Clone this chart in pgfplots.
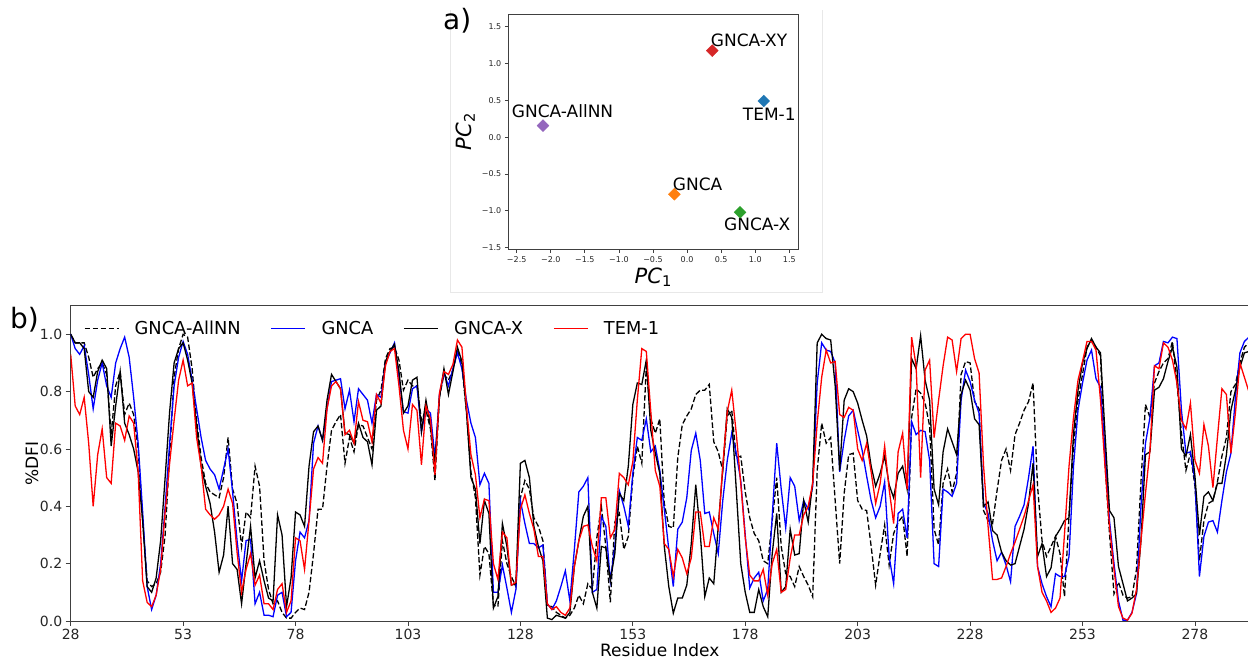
\documentclass[border=0pt]{standalone}
\usepackage{fontspec}
\setmainfont{DejaVu Sans}
\usepackage{pgfplots}
\pgfplotsset{compat=1.18}
\usepackage{pgfplotstable}

\definecolor{tabred}{HTML}{D62728}
\definecolor{tabblue}{HTML}{1F77B4}
\definecolor{tabpurple}{HTML}{9467BD}
\definecolor{taborange}{HTML}{FF7F0E}
\definecolor{tabgreen}{HTML}{2CA02C}

% %DFI per residue: GNCA-AllNN, GNCA, GNCA-X, TEM-1
\pgfplotstableread{
r allnn gnca gncax tem
28 1.00 1.00 1.00 0.93
29 0.97 0.95 0.97 0.75
30 0.97 0.93 0.97 0.72
31 0.97 0.96 0.95 0.78
32 0.92 0.86 0.80 0.62
33 0.85 0.74 0.78 0.40
34 0.88 0.84 0.87 0.58
35 0.90 0.90 0.91 0.67
36 0.86 0.82 0.88 0.50
37 0.65 0.78 0.61 0.48
38 0.82 0.90 0.75 0.69
39 0.87 0.95 0.87 0.68
40 0.72 0.99 0.69 0.63
41 0.76 0.92 0.65 0.715
42 0.72 0.78 0.60 0.69
43 0.60 0.62 0.52 0.52
44 0.35 0.38 0.35 0.14
45 0.14 0.12 0.12 0.065
46 0.12 0.04 0.10 0.05
47 0.13 0.09 0.15 0.09
48 0.17 0.20 0.28 0.18
49 0.30 0.40 0.50 0.38
50 0.58 0.62 0.73 0.55
51 0.85 0.82 0.90 0.70
52 0.95 0.92 0.95 0.84
53 1.00 0.975 0.97 0.91
54 0.99 0.93 0.91 0.82
55 0.88 0.84 0.83 0.83
56 0.70 0.74 0.68 0.64
57 0.57 0.64 0.54 0.54
58 0.48 0.56 0.47 0.39
59 0.45 0.53 0.41 0.37
60 0.44 0.51 0.31 0.355
61 0.43 0.46 0.17 0.37
62 0.50 0.53 0.23 0.40
63 0.64 0.60 0.40 0.46
64 0.46 0.45 0.20 0.41
65 0.41 0.28 0.18 0.24
66 0.26 0.14 0.06 0.10
67 0.38 0.28 0.20 0.18
68 0.36 0.285 0.33 0.235
69 0.54 0.06 0.15 0.125
70 0.47 0.10 0.21 0.16
71 0.21 0.02 0.14 0.06
72 0.11 0.02 0.08 0.06
73 0.06 0.015 0.07 0.04
74 0.07 0.09 0.37 0.11
75 0.03 0.10 0.30 0.13
76 0.01 0.015 0.05 0.03
77 0.01 0.03 0.15 0.07
78 0.03 0.21 0.38 0.29
79 0.045 0.31 0.37 0.28
80 0.04 0.29 0.33 0.18
81 0.10 0.35 0.54 0.35
82 0.235 0.62 0.66 0.53
83 0.39 0.68 0.68 0.57
84 0.39 0.63 0.63 0.55
85 0.54 0.74 0.77 0.74
86 0.665 0.835 0.86 0.82
87 0.695 0.84 0.835 0.835
88 0.72 0.845 0.81 0.81
89 0.55 0.74 0.655 0.65
90 0.64 0.805 0.65 0.665
91 0.59 0.695 0.62 0.62
92 0.685 0.81 0.69 0.765
93 0.68 0.79 0.64 0.70
94 0.64 0.77 0.625 0.695
95 0.60 0.69 0.545 0.625
96 0.77 0.79 0.735 0.79
97 0.805 0.78 0.75 0.76
98 0.915 0.90 0.905 0.89
99 0.95 0.935 0.94 0.94
100 0.955 0.97 0.965 0.95
101 0.91 0.85 0.87 0.82
102 0.805 0.73 0.725 0.665
103 0.84 0.725 0.75 0.60
104 0.82 0.81 0.84 0.755
105 0.82 0.82 0.85 0.735
106 0.70 0.66 0.66 0.545
107 0.735 0.74 0.77 0.75
108 0.67 0.725 0.68 0.705
109 0.49 0.57 0.55 0.51
110 0.78 0.79 0.78 0.795
111 0.86 0.865 0.88 0.87
112 0.84 0.82 0.79 0.86
113 0.875 0.88 0.87 0.895
114 0.945 0.935 0.955 0.98
115 0.89 0.88 0.905 0.955
116 0.73 0.77 0.735 0.75
117 0.52 0.69 0.50 0.58
118 0.43 0.64 0.46 0.51
119 0.16 0.475 0.27 0.36
120 0.26 0.515 0.42 0.425
121 0.235 0.48 0.375 0.42
122 0.055 0.10 0.045 0.20
123 0.05 0.10 0.085 0.145
124 0.28 0.195 0.34 0.31
125 0.20 0.115 0.26 0.29
126 0.155 0.03 0.125 0.125
127 0.12 0.11 0.13 0.135
128 0.43 0.42 0.55 0.39
129 0.49 0.34 0.56 0.44
130 0.46 0.27 0.50 0.375
131 0.36 0.27 0.33 0.32
132 0.33 0.255 0.26 0.225
133 0.28 0.265 0.21 0.225
134 0.055 0.06 0.01 0.06
135 0.05 0.04 0.005 0.04
136 0.03 0.07 0.02 0.05
137 0.02 0.12 0.015 0.03
138 0.01 0.175 0.01 0.02
139 0.02 0.07 0.03 0.045
140 0.045 0.25 0.19 0.19
141 0.09 0.45 0.28 0.28
142 0.06 0.47 0.365 0.33
143 0.13 0.50 0.40 0.335
144 0.11 0.10 0.10 0.26
145 0.29 0.11 0.045 0.21
146 0.40 0.365 0.26 0.43
147 0.26 0.33 0.255 0.43
148 0.065 0.14 0.14 0.29
149 0.345 0.26 0.235 0.32
150 0.375 0.455 0.445 0.515
151 0.25 0.40 0.42 0.50
152 0.295 0.33 0.54 0.475
153 0.50 0.515 0.755 0.555
154 0.61 0.64 0.83 0.77
155 0.55 0.63 0.825 0.95
156 0.89 0.705 0.91 0.94
157 0.705 0.59 0.665 0.73
158 0.655 0.61 0.585 0.525
159 0.705 0.525 0.515 0.47
160 0.41 0.39 0.26 0.27
161 0.33 0.25 0.12 0.25
162 0.325 0.12 0.027 0.155
163 0.57 0.32 0.08 0.25
164 0.685 0.345 0.08 0.22
165 0.715 0.43 0.125 0.165
166 0.74 0.595 0.27 0.22
167 0.79 0.655 0.475 0.38
168 0.805 0.56 0.305 0.38
169 0.805 0.375 0.085 0.26
170 0.825 0.38 0.15 0.26
171 0.625 0.305 0.13 0.36
172 0.59 0.235 0.33 0.32
173 0.525 0.42 0.53 0.54
174 0.715 0.56 0.74 0.73
175 0.735 0.655 0.71 0.805
176 0.57 0.585 0.46 0.655
177 0.575 0.49 0.20 0.48
178 0.45 0.30 0.10 0.29
179 0.36 0.115 0.03 0.16
180 0.305 0.15 0.03 0.14
181 0.28 0.17 0.11 0.14
182 0.21 0.07 0.05 0.18
183 0.20 0.11 0.015 0.09
184 0.35 0.365 0.235 0.20
185 0.50 0.62 0.375 0.25
186 0.26 0.46 0.10 0.10
187 0.165 0.325 0.12 0.11
188 0.155 0.50 0.32 0.22
189 0.12 0.47 0.23 0.30
190 0.19 0.35 0.235 0.30
191 0.155 0.42 0.42 0.37
192 0.125 0.39 0.345 0.40
193 0.085 0.47 0.485 0.48
194 0.525 0.83 0.97 0.69
195 0.69 0.97 1.00 0.85
196 0.62 0.945 0.985 0.945
197 0.64 0.94 0.98 0.90
198 0.42 0.90 0.82 0.905
199 0.20 0.52 0.525 0.72
200 0.445 0.63 0.77 0.71
201 0.58 0.715 0.81 0.745
202 0.585 0.735 0.80 0.735
203 0.42 0.665 0.76 0.60
204 0.39 0.595 0.70 0.56
205 0.385 0.505 0.645 0.62
206 0.26 0.42 0.54 0.52
207 0.125 0.36 0.47 0.41
208 0.235 0.40 0.515 0.48
209 0.335 0.485 0.575 0.61
210 0.195 0.225 0.475 0.46
211 0.305 0.13 0.43 0.34
212 0.345 0.375 0.515 0.59
213 0.365 0.39 0.54 0.655
214 0.225 0.29 0.46 0.46
215 0.71 0.695 0.915 0.99
216 0.81 0.65 0.88 0.89
217 0.795 0.665 0.995 0.50
218 0.76 0.66 0.84 0.875
219 0.68 0.56 0.77 0.91
220 0.32 0.20 0.46 0.64
221 0.265 0.19 0.405 0.77
222 0.48 0.46 0.59 0.89
223 0.53 0.45 0.67 0.99
224 0.45 0.435 0.625 0.98
225 0.515 0.48 0.58 0.87
226 0.86 0.77 0.79 0.985
227 0.905 0.875 0.84 1.00
228 0.90 0.835 0.805 1.00
229 0.765 0.77 0.705 0.915
230 0.74 0.725 0.685 0.865
231 0.385 0.41 0.40 0.54
232 0.35 0.375 0.415 0.33
233 0.34 0.28 0.315 0.145
234 0.455 0.21 0.30 0.145
235 0.56 0.24 0.24 0.15
236 0.60 0.195 0.21 0.19
237 0.525 0.137 0.195 0.235
238 0.65 0.33 0.20 0.275
239 0.69 0.365 0.26 0.32
240 0.735 0.405 0.32 0.365
241 0.765 0.50 0.41 0.42
242 0.83 0.61 0.55 0.475
243 0.47 0.19 0.225 0.19
244 0.28 0.13 0.27 0.10
245 0.225 0.085 0.155 0.07
246 0.26 0.05 0.185 0.03
247 0.295 0.165 0.295 0.045
248 0.235 0.155 0.32 0.08
249 0.085 0.155 0.35 0.305
250 0.365 0.225 0.36 0.54
251 0.61 0.54 0.655 0.71
252 0.77 0.735 0.805 0.84
253 0.86 0.83 0.90 0.905
254 0.955 0.91 0.95 0.975
255 0.98 0.945 0.985 0.975
256 0.955 0.845 0.955 0.945
257 0.925 0.815 0.935 0.77
258 0.55 0.595 0.655 0.54
259 0.305 0.35 0.385 0.33
260 0.095 0.20 0.36 0.18
261 0.135 0.07 0.19 0.05
262 0.09 0.003 0.13 0.01
263 0.08 0.003 0.07 0.003
264 0.085 0.03 0.08 0.027
265 0.18 0.095 0.095 0.11
266 0.485 0.40 0.28 0.28
267 0.755 0.62 0.58 0.445
268 0.71 0.71 0.59 0.595
269 0.83 0.89 0.805 0.89
270 0.87 0.90 0.815 0.88
271 0.90 0.975 0.845 0.97
272 0.915 0.97 0.905 0.955
273 0.975 0.99 0.955 0.91
274 0.83 0.985 0.885 0.83
275 0.655 0.735 0.60 0.70
276 0.525 0.585 0.575 0.67
277 0.585 0.59 0.65 0.76
278 0.47 0.49 0.505 0.56
279 0.21 0.155 0.30 0.515
280 0.35 0.295 0.435 0.685
281 0.41 0.345 0.45 0.61
282 0.42 0.35 0.42 0.465
283 0.485 0.31 0.48 0.64
284 0.575 0.42 0.48 0.81
285 0.64 0.52 0.58 0.79
286 0.80 0.585 0.735 0.585
287 0.825 0.78 0.805 0.725
288 0.90 0.935 0.885 0.90
289 0.955 0.975 0.935 0.85
290 0.97 0.99 0.94 0.80
}\dfitable

\begin{document}
\begin{tikzpicture}
\useasboundingbox (0pt,0pt) rectangle (1248pt,660pt);

% faint frame around panel a
\draw[black!9, line width=1pt] (450pt,650pt) -- (450pt,367pt) -- (822pt,367pt) -- (822pt,650pt);

% ---------- panel a: PCA scatter ----------
\begin{axis}[
    at={(508.3pt,410.7pt)}, anchor=south west,
    scale only axis, width=290pt, height=235.3pt,
    xmin=-2.623, xmax=1.632, ymin=-1.522, ymax=1.672,
    xtick={-2.5,-2,-1.5,-1,-0.5,0,0.5,1,1.5},
    ytick={-1.5,-1,-0.5,0,0.5,1,1.5},
    xticklabels={−2.5,−2.0,−1.5,−1.0,−0.5,0.0,0.5,1.0,1.5},
    yticklabels={−1.5,−1.0,−0.5,0.0,0.5,1.0,1.5},
    tick label style={font=\fontsize{8}{9}\selectfont, text=black!85},
    tick align=outside, tick pos=left, major tick length=3.5pt,
    axis line style={black!75, line width=0.8pt},
    tick style={black!75, line width=0.8pt},
    every axis x label/.style={at={(axis description cs:0.5,0)}, yshift=-28pt, anchor=center},
    every axis y label/.style={at={(axis description cs:0,0.5)}, xshift=-43pt, rotate=90, anchor=center},
    label style={font=\fontsize{21}{24}\selectfont},
    xlabel={\textit{PC}\textsubscript{1}},
    ylabel={\textit{PC}\textsubscript{2}},
    clip=false,
]
\addplot[only marks, mark=square*, mark size=4.2pt, mark options={rotate=45}, color=tabred] coordinates {(0.37,1.174)};
\addplot[only marks, mark=square*, mark size=4.2pt, mark options={rotate=45}, color=tabblue] coordinates {(1.125,0.491)};
\addplot[only marks, mark=square*, mark size=4.2pt, mark options={rotate=45}, color=tabpurple] coordinates {(-2.114,0.156)};
\addplot[only marks, mark=square*, mark size=4.2pt, mark options={rotate=45}, color=taborange] coordinates {(-0.187,-0.775)};
\addplot[only marks, mark=square*, mark size=4.2pt, mark options={rotate=45}, color=tabgreen] coordinates {(0.777,-1.02)};
\node[anchor=base west, inner sep=0pt, font=\fontsize{17}{20}\selectfont] at (axis cs:0.347,1.229) {GNCA-XY};
\node[anchor=base west, inner sep=0pt, font=\fontsize{17}{20}\selectfont] at (axis cs:0.816,0.224) {TEM-1};
\node[anchor=base west, inner sep=0pt, font=\fontsize{17}{20}\selectfont] at (axis cs:-2.573,0.270) {GNCA-AllNN};
\node[anchor=base west, inner sep=0pt, font=\fontsize{17}{20}\selectfont] at (axis cs:-0.211,-0.726) {GNCA};
\node[anchor=base west, inner sep=0pt, font=\fontsize{17}{20}\selectfont] at (axis cs:0.542,-1.269) {GNCA-X};
\end{axis}
\node[anchor=base west, inner sep=0pt, font=\fontsize{28}{30}\selectfont] at (443pt,630pt) {a)};

% ---------- panel b: %DFI profiles ----------
\begin{axis}[
    at={(70.7pt,39pt)}, anchor=south west,
    scale only axis, width=1178.2pt, height=315.4pt,
    xmin=28, xmax=290, ymin=0, ymax=1.1,
    xtick={28,53,78,103,128,153,178,203,228,253,278},
    ytick={0,0.2,0.4,0.6,0.8,1.0},
    yticklabel style={/pgf/number format/.cd, fixed, fixed zerofill, precision=1},
    /pgf/number format/assume math mode=true,
    tick label style={font=\fontsize{14}{16}\selectfont, text=black!85},
    tick align=outside, tick pos=left, major tick length=5pt,
    axis line style={black!75, line width=0.8pt},
    tick style={black!75, line width=0.8pt},
    every axis x label/.style={at={(axis description cs:0.5,0)}, yshift=-29pt, anchor=center},
    every axis y label/.style={at={(axis description cs:0,0.5)}, xshift=-38.7pt, rotate=90, anchor=center},
    label style={font=\fontsize{17}{20}\selectfont},
    xlabel={Residue Index},
    ylabel={\%DFI},
    legend style={draw=none, fill=none, at={(axis description cs:0,1)}, anchor=north west,
        xshift=13pt, yshift=-13pt, inner sep=0pt, font=\fontsize{17.8}{20}\selectfont,
        /tikz/every odd column/.append style={column sep=13.5pt},
        /tikz/every even column/.append style={column sep=28pt}},
    legend columns=4,
    legend image code/.code={\draw[#1] (0pt,0pt) -- (34pt,0pt);},
]
\addplot[black, line width=1.3pt, dash pattern=on 5.5pt off 2.5pt] table[x=r, y=allnn] {\dfitable};
\addplot[blue, line width=1.3pt] table[x=r, y=gnca] {\dfitable};
\addplot[black, line width=1.3pt] table[x=r, y=gncax] {\dfitable};
\addplot[red, line width=1.3pt] table[x=r, y=tem] {\dfitable};
\legend{GNCA-AllNN, GNCA, GNCA-X, TEM-1}
\end{axis}
\node[anchor=base west, inner sep=0pt, font=\fontsize{28}{30}\selectfont] at (10pt,331pt) {b)};
\end{tikzpicture}
\end{document}
